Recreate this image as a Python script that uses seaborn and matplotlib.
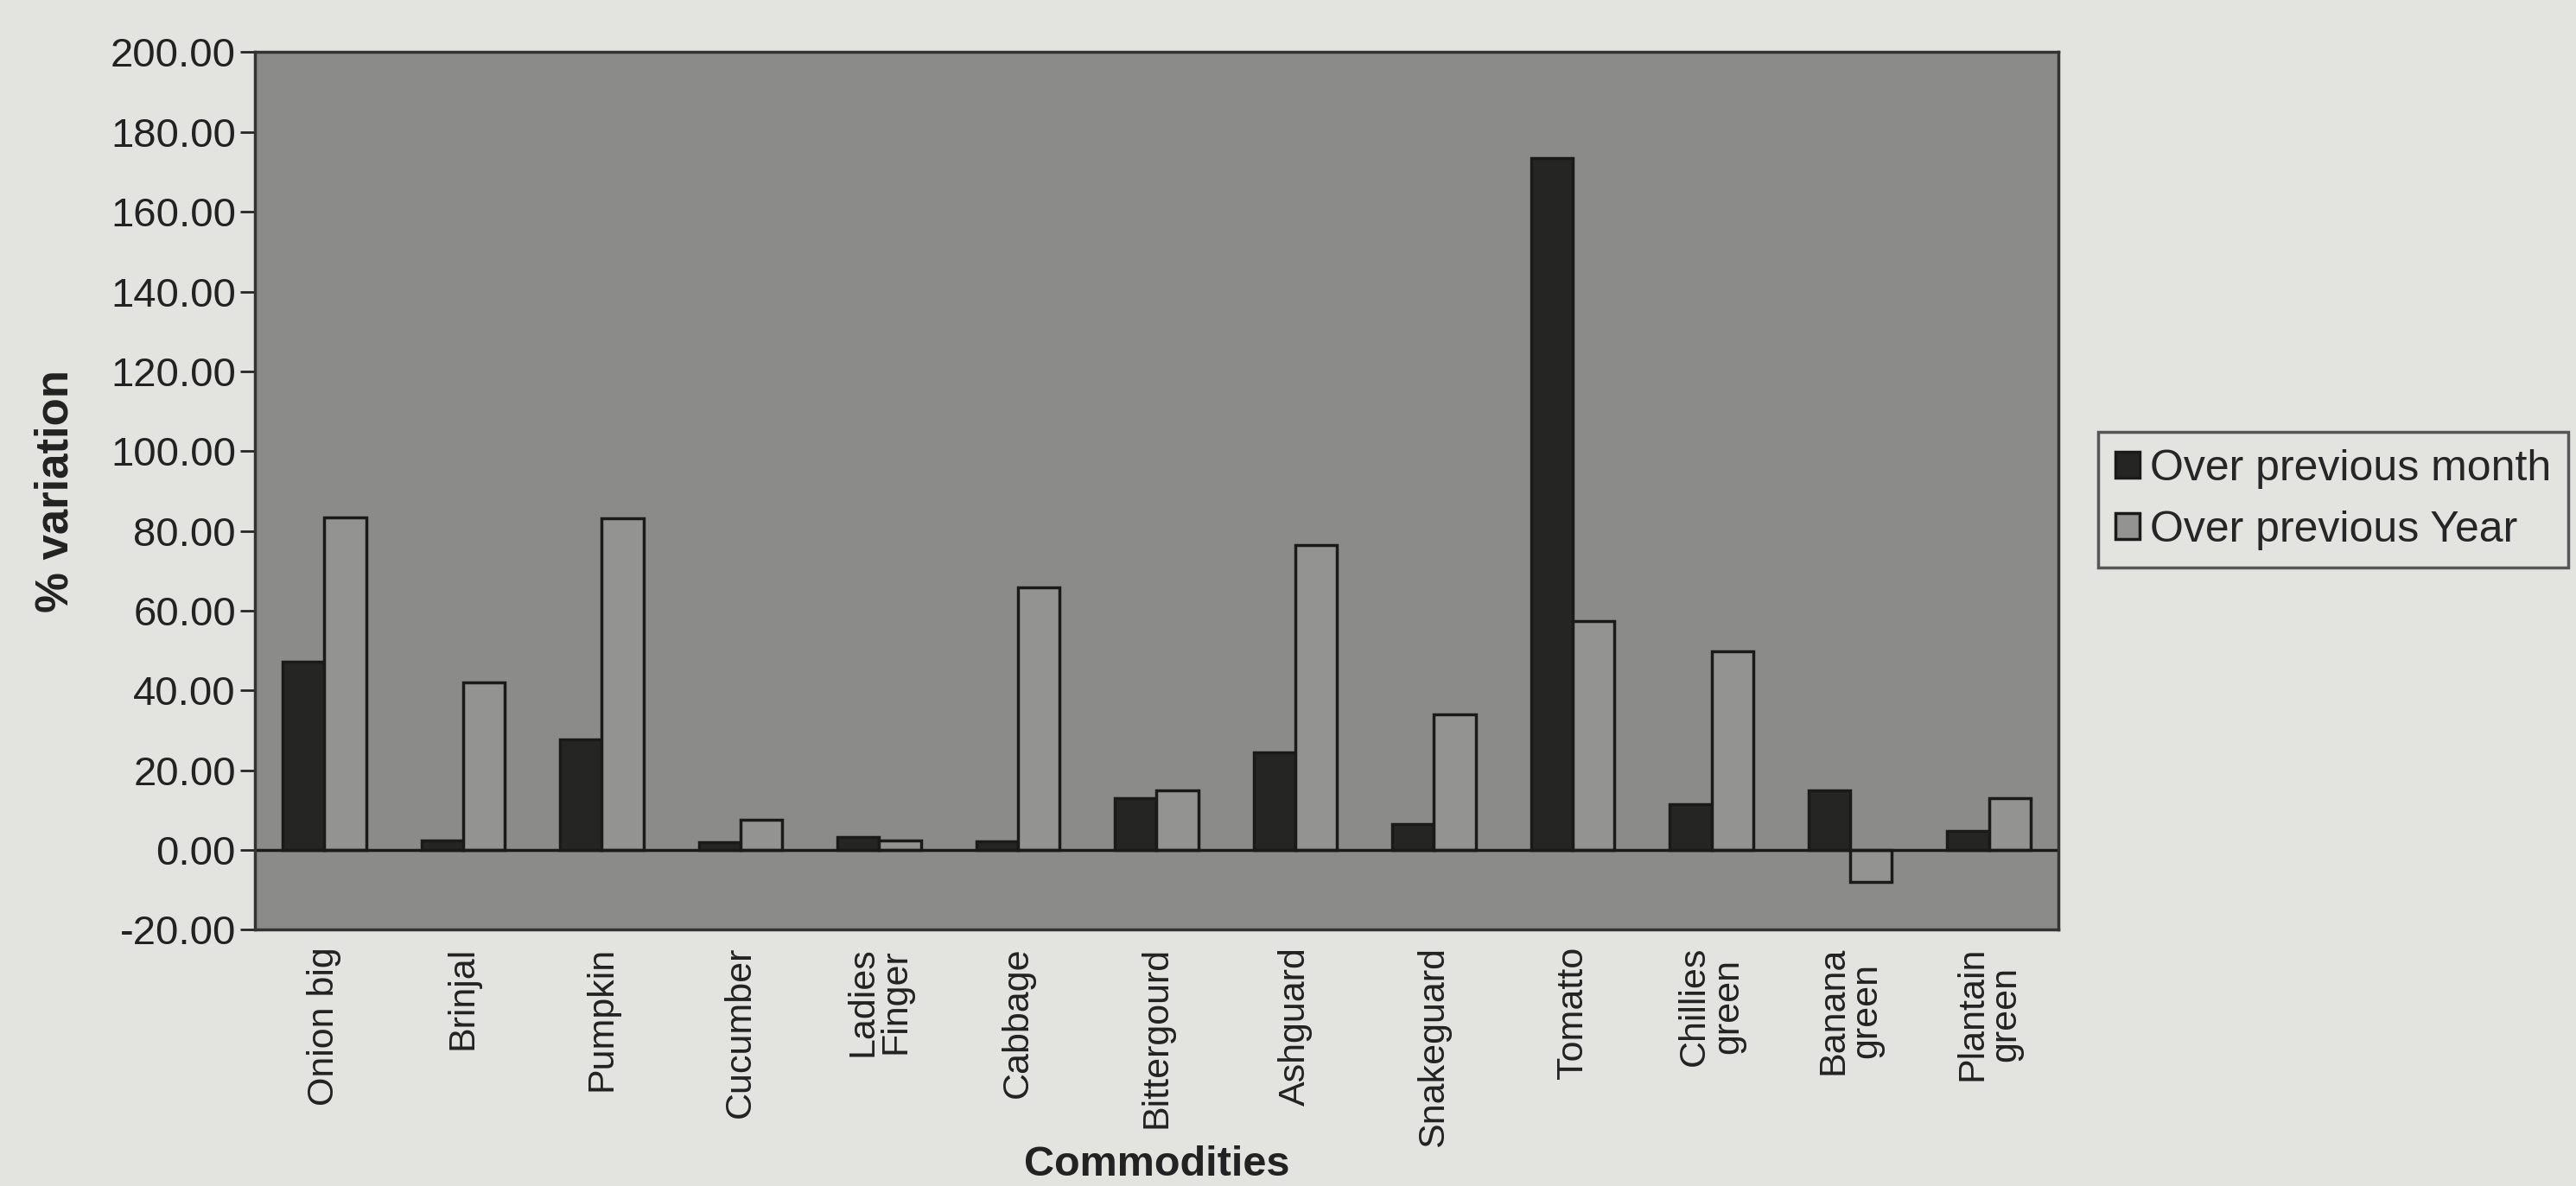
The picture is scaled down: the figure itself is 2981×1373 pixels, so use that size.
import seaborn as sns
import matplotlib.pyplot as plt
import pandas as pd

commodities = ["Onion big", "Brinjal", "Pumpkin", "Cucumber", "Ladies\nFinger",
               "Cabbage", "Bittergourd", "Ashguard", "Snakeguard", "Tomatto",
               "Chillies\ngreen", "Banana\ngreen", "Plantain\ngreen"]
over_month = [47.2, 2.4, 27.8, 2.0, 3.3, 2.2, 12.9, 24.5, 6.5, 173.5, 11.5, 15.0, 4.8]
over_year = [83.4, 42.0, 83.2, 7.6, 2.5, 65.8, 15.0, 76.5, 34.0, 57.5, 49.8, -8.0, 13.0]
series = ["Over previous month", "Over previous Year"]
yticks = [-20, 0, 20, 40, 60, 80, 100, 120, 140, 160, 180, 200]

df = pd.DataFrame({
    "Commodity": commodities * 2,
    "value": over_month + over_year,
    "series": [series[0]] * len(commodities) + [series[1]] * len(commodities),
})

sns.set_style("white")
plt.rcParams["font.family"] = ["Liberation Sans", "DejaVu Sans"]

fig = plt.figure(figsize=(29.81, 13.73), dpi=100, facecolor="#e3e3e0")
ax = fig.add_axes([0.099, 0.216, 0.700, 0.740])
ax.set_facecolor("#8b8b89")

sns.barplot(data=df, x="Commodity", y="value", hue="series",
            palette=["#252523", "#939391"], width=0.6,
            edgecolor="#1a1a1a", linewidth=2.5, ax=ax, legend=True)

ax.axhline(0, color="#1a1a1a", lw=2.5, zorder=1)
ax.set_ylim(-20, 200)
ax.set_xlim(-0.5, len(commodities) - 0.5)
ax.set_yticks(yticks)
ax.set_yticklabels([f"{v:.2f}" for v in yticks], fontsize=34, color="#222")
ax.tick_params(axis="y", direction="out", length=12, width=2, pad=4, left=True)
ax.tick_params(axis="x", length=0, pad=14)
ax.set_xticks(range(len(commodities)))
ax.set_xticklabels(commodities, rotation=90, fontsize=31, color="#222",
                   va="top", ha="center", linespacing=0.95)
ax.set_xlabel("Commodities", fontsize=35, fontweight="bold", color="#222", va="center")
ax.xaxis.set_label_coords(0.5, -0.268)
ax.set_ylabel("% variation", fontsize=38, fontweight="bold", color="#222", labelpad=28)
for s in ax.spines.values():
    s.set_color("#333")
    s.set_linewidth(2.5)

ax.legend_.remove()
leg = fig.legend(*ax.get_legend_handles_labels(), loc="upper left",
                 bbox_to_anchor=(0.8145, 0.636), borderaxespad=0, fontsize=36,
                 frameon=True, fancybox=False, edgecolor="#333", facecolor="#e3e3e0",
                 handlelength=0.55, handleheight=0.55, handletextpad=0.25,
                 borderpad=0.4, labelspacing=0.5)
leg.get_frame().set_linewidth(2.5)

fig.savefig("out.png", dpi=100, facecolor=fig.get_facecolor())
